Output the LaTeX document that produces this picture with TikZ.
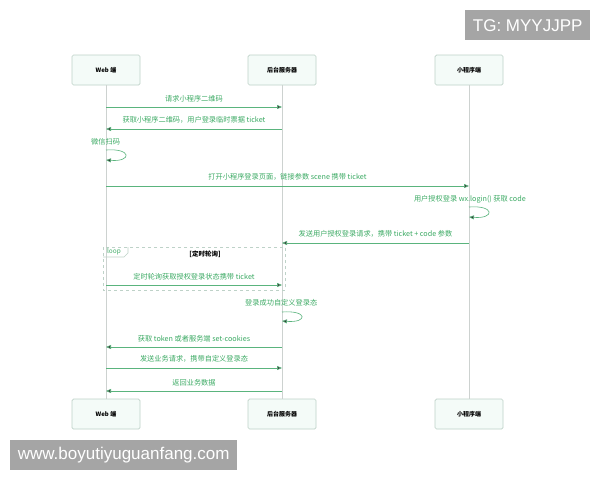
\documentclass[tikz,border=0pt]{standalone}
\usepackage{fontspec}
\setmainfont{Noto Sans CJK SC}
\newfontfamily\wmfont{Liberation Sans}
\usetikzlibrary{arrows.meta}
\definecolor{msggreen}{RGB}{60,170,100}
\definecolor{linegreen}{RGB}{90,180,125}
\definecolor{boxfill}{RGB}{244,251,248}
\definecolor{boxline}{RGB}{190,210,200}
\definecolor{lifegrey}{RGB}{205,210,208}
\definecolor{wmgrey}{RGB}{165,165,165}
\tikzset{
  actor/.style={draw=boxline, fill=boxfill, rounded corners=1.5pt, minimum width=68pt, minimum height=30pt, font=\fontsize{6}{7}\selectfont\bfseries, line width=0.7pt},
  life/.style={draw=lifegrey, line width=0.6pt},
  msg/.style={draw=linegreen, line width=0.6pt, -{Triangle[length=5pt,width=4pt,fill=black!80]}},
  lbl/.style={text=msggreen, font=\fontsize{7.2}{8}\selectfont, inner sep=0pt},
  wm/.style={fill=wmgrey, text=white, font=\wmfont\fontsize{17}{19}\selectfont, inner sep=0pt, anchor=north west},
}
\begin{document}
\begin{tikzpicture}[x=1pt,y=-1pt]
\useasboundingbox[fill=white] (0,0) rectangle (600,480);
% actors
\node[actor] (wt) at (106,70) {Web 端};
\node[actor] (st) at (282,70) {后台服务器};
\node[actor] (mt) at (469,70) {小程序端};
\node[actor] (wb) at (106,414) {Web 端};
\node[actor] (sb) at (282,414) {后台服务器};
\node[actor] (mb) at (469,414) {小程序端};
% lifelines
\draw[life] (wt) -- (wb);
\draw[life] (st) -- (sb);
\draw[life] (mt) -- (mb);
% loop frame
\draw[draw=boxline, dashed, line width=0.6pt] (103,247) rectangle (285,290);
\draw[draw=boxline, line width=0.6pt] (103,257) -- (124,257) -- (128,253) -- (128,247);
\node[font=\fontsize{6.5}{7}\selectfont, text=msggreen, inner sep=0pt] (lp) at (114,252) {loop};
\node[font=\fontsize{6.5}{7}\selectfont\bfseries, inner sep=0pt] (cond) at (205,254) {[定时轮询]};
% coordinates on lifelines
\foreach \n/\y in {1/107,2/129,4/186,6/243,7/285,9/347,10/368,11/391}{
  \coordinate (w\n) at (106,\y);
  \coordinate (s\n) at (282,\y);
  \coordinate (m\n) at (469,\y);
}
% messages
\draw[msg] (w1) -- node[lbl, above=5pt] {请求小程序二维码} (s1);
\draw[msg] (s2) -- node[lbl, above=5pt] {获取小程序二维码，用户登录临时票据 ticket} (w2);
\coordinate (ws1) at (106,150); \coordinate (ws2) at (106,160);
\node[lbl, anchor=west] (l3) at (91,142) {微信扫码};
\draw[msg] (ws1) .. controls (132,148) and (132,162) .. (ws2);
\draw[msg] (w4) -- node[lbl, above=5pt] {打开小程序登录页面，链接参数 scene 携带 ticket} (m4);
\coordinate (ms1) at (469,207); \coordinate (ms2) at (469,217);
\node[lbl, anchor=east] (l5) at (526,199) {用户授权登录 wx.login() 获取 code};
\draw[msg] (ms1) .. controls (495,205) and (495,219) .. (ms2);
\draw[msg] (m6) -- node[lbl, above=5pt] {发送用户授权登录请求，携带 ticket + code 参数} (s6);
\draw[msg] (w7) -- node[lbl, above=5pt] {定时轮询获取授权登录状态携带 ticket} (s7);
\coordinate (ss1) at (282,312); \coordinate (ss2) at (282,321);
\node[lbl, anchor=west] (l8) at (245,303) {登录成功自定义登录态};
\draw[msg] (ss1) .. controls (308,310) and (308,323) .. (ss2);
\draw[msg] (s9) -- node[lbl, above=5pt] {获取 token 或者服务端 set-cookies} (w9);
\draw[msg] (w10) -- node[lbl, above=5pt] {发送业务请求，携带自定义登录态} (s10);
\draw[msg] (s11) -- node[lbl, above=5pt] {返回业务数据} (w11);
% watermarks
\node[wm, minimum width=125pt, minimum height=30pt] (tg) at (465,10) {TG: MYYJJPP};
\node[wm, minimum width=227pt, minimum height=30pt] (www) at (10,440) {www.boyutiyuguanfang.com};
\end{tikzpicture}
\end{document}
